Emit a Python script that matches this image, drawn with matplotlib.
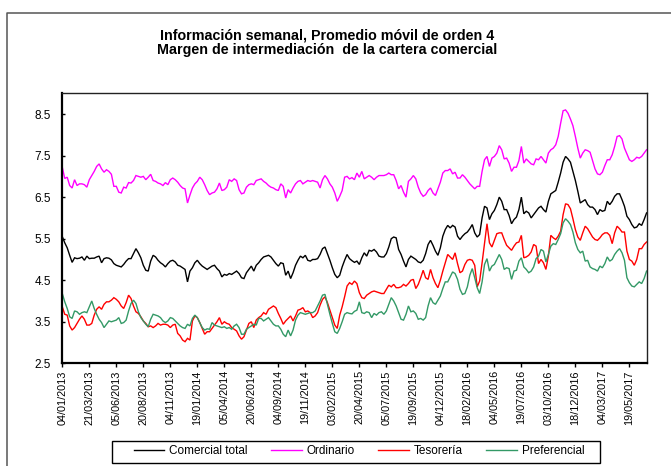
import numpy as np
import matplotlib
matplotlib.use("Agg")
import matplotlib.pyplot as plt
from matplotlib.lines import Line2D
from matplotlib.patches import Rectangle

plt.rcParams['font.family'] = ['Liberation Sans', 'DejaVu Sans']

# ---------------- data (weekly, moving average of order 4) ----------------
tick_labels = ["04/01/2013", "21/03/2013", "05/06/2013", "20/08/2013", "04/11/2013",
               "19/01/2014", "05/04/2014", "20/06/2014", "04/09/2014", "19/11/2014",
               "03/02/2015", "20/04/2015", "05/07/2015", "19/09/2015", "04/12/2015",
               "18/02/2016", "04/05/2016", "19/07/2016", "03/10/2016", "18/12/2016",
               "04/03/2017", "19/05/2017"]

comercial_total = [
    5.55, 5.40, 5.28, 5.10, 4.93, 5.04, 5.02, 5.03, 5.06, 4.98,
    5.08, 5.02, 5.03, 5.03, 5.06, 5.08, 4.92, 5.02, 5.04, 5.03,
    4.99, 4.90, 4.86, 4.84, 4.82, 4.88, 4.96, 5.02, 5.02, 5.14,
    5.26, 5.16, 5.04, 4.86, 4.74, 4.72, 4.96, 5.10, 5.06, 4.98,
    4.92, 4.88, 4.82, 4.90, 4.96, 4.98, 4.94, 4.86, 4.84, 4.80,
    4.76, 4.46, 4.72, 4.80, 4.92, 4.98, 4.90, 4.84, 4.80, 4.76,
    4.80, 4.84, 4.86, 4.78, 4.72, 4.58, 4.64, 4.62, 4.66, 4.64,
    4.68, 4.72, 4.66, 4.56, 4.54, 4.68, 4.76, 4.84, 4.72, 4.86,
    4.92, 5.00, 5.06, 5.08, 5.10, 5.06, 4.98, 4.90, 4.84, 4.92,
    4.90, 4.62, 4.72, 4.54, 4.68, 4.86, 4.98, 5.08, 5.04, 5.10,
    4.98, 4.96, 5.00, 5.00, 5.02, 5.12, 5.26, 5.30, 5.14, 4.98,
    4.80, 4.64, 4.56, 4.62, 4.82, 4.98, 5.12, 5.02, 4.97, 4.93,
    4.96, 4.88, 5.04, 5.16, 5.08, 5.22, 5.20, 5.24, 5.18, 5.08,
    5.06, 5.06, 5.14, 5.30, 5.50, 5.54, 5.52, 5.24, 5.12, 4.96,
    4.82, 5.00, 5.08, 5.04, 5.00, 4.94, 4.92, 4.98, 5.14, 5.36,
    5.46, 5.34, 5.20, 5.10, 5.28, 5.56, 5.72, 5.82, 5.76, 5.82,
    5.78, 5.56, 5.48, 5.56, 5.62, 5.66, 5.74, 5.84, 5.64, 5.54,
    5.60, 6.00, 6.28, 6.24, 5.96, 6.10, 6.18, 6.32, 6.50, 6.40,
    6.20, 6.20, 6.06, 5.86, 5.96, 6.02, 6.20, 6.50, 6.10, 6.16,
    6.12, 6.00, 6.08, 6.16, 6.24, 6.28, 6.20, 6.14, 6.40, 6.58,
    6.62, 6.66, 6.86, 7.08, 7.34, 7.48, 7.42, 7.34, 7.12, 6.90,
    6.64, 6.36, 6.40, 6.44, 6.32, 6.26, 6.26, 6.20, 6.08, 6.20,
    6.16, 6.18, 6.40, 6.32, 6.40, 6.52, 6.58, 6.58, 6.44, 6.28,
    6.04, 5.96, 5.84, 5.76, 5.78, 5.86, 5.82, 5.96, 6.12]

ordinario = [
    7.22, 6.95, 6.98, 6.78, 6.72, 6.92, 6.78, 6.82, 6.82, 6.80,
    6.74, 6.92, 7.02, 7.12, 7.24, 7.30, 7.18, 7.10, 7.16, 7.12,
    7.05, 6.76, 6.76, 6.62, 6.60, 6.74, 6.72, 6.85, 6.84, 6.90,
    7.02, 7.00, 6.98, 7.00, 6.92, 6.98, 7.05, 6.90, 6.88, 6.84,
    6.82, 6.78, 6.85, 6.80, 6.92, 6.96, 6.92, 6.86, 6.78, 6.72,
    6.70, 6.36, 6.55, 6.72, 6.82, 6.88, 6.98, 6.92, 6.80, 6.66,
    6.56, 6.60, 6.62, 6.70, 6.84, 6.66, 6.68, 6.74, 6.92, 6.88,
    6.94, 6.90, 6.68, 6.58, 6.60, 6.74, 6.80, 6.82, 6.80, 6.90,
    6.92, 6.94, 6.88, 6.84, 6.78, 6.74, 6.72, 6.68, 6.66, 6.82,
    6.76, 6.48, 6.68, 6.60, 6.72, 6.82, 6.88, 6.90, 6.82, 6.86,
    6.90, 6.88, 6.90, 6.88, 6.86, 6.72, 6.92, 7.02, 6.94, 6.82,
    6.74, 6.60, 6.40, 6.52, 6.66, 6.98, 7.00, 6.94, 6.97, 6.92,
    7.08, 6.98, 7.12, 6.94, 6.98, 7.02, 6.98, 6.92, 6.98, 7.02,
    7.02, 7.02, 7.04, 7.08, 7.04, 7.04, 6.90, 6.70, 6.78, 6.62,
    6.50, 6.88, 6.94, 7.02, 6.94, 6.74, 6.60, 6.52, 6.56, 6.66,
    6.72, 6.60, 6.54, 6.70, 6.86, 7.08, 7.14, 7.14, 7.18, 7.06,
    7.10, 6.96, 6.96, 7.04, 6.98, 6.90, 6.82, 6.76, 6.70, 6.76,
    6.76, 7.12, 7.40, 7.48, 7.24, 7.44, 7.48, 7.56, 7.74, 7.64,
    7.42, 7.44, 7.32, 7.12, 7.22, 7.22, 7.38, 7.72, 7.32, 7.42,
    7.36, 7.30, 7.28, 7.42, 7.40, 7.48, 7.40, 7.32, 7.56, 7.64,
    7.68, 7.76, 7.96, 8.28, 8.58, 8.60, 8.52, 8.38, 8.22, 7.96,
    7.68, 7.44, 7.56, 7.64, 7.62, 7.58, 7.38, 7.18, 7.06, 7.04,
    7.10, 7.26, 7.40, 7.40, 7.52, 7.72, 7.96, 7.98, 7.90, 7.68,
    7.54, 7.40, 7.36, 7.40, 7.46, 7.44, 7.48, 7.56, 7.64]

tesoreria = [
    3.86, 3.68, 3.66, 3.40, 3.30, 3.36, 3.46, 3.56, 3.64, 3.56,
    3.42, 3.42, 3.46, 3.66, 3.80, 3.86, 3.80, 3.92, 3.98, 3.98,
    4.02, 4.08, 4.04, 3.98, 3.88, 3.82, 3.96, 4.14, 4.06, 3.88,
    3.74, 3.70, 3.62, 3.52, 3.46, 3.38, 3.40, 3.36, 3.40, 3.46,
    3.42, 3.44, 3.44, 3.42, 3.36, 3.42, 3.44, 3.22, 3.16, 3.06,
    3.02, 3.10, 3.06, 3.52, 3.64, 3.60, 3.48, 3.34, 3.20, 3.26,
    3.26, 3.34, 3.42, 3.50, 3.60, 3.44, 3.50, 3.46, 3.44, 3.36,
    3.32, 3.28, 3.16, 3.08, 3.14, 3.30, 3.46, 3.50, 3.36, 3.54,
    3.60, 3.64, 3.72, 3.68, 3.80, 3.84, 3.88, 3.84, 3.70, 3.58,
    3.44, 3.52, 3.58, 3.64, 3.52, 3.64, 3.78, 3.80, 3.84, 3.74,
    3.76, 3.72, 3.60, 3.64, 3.72, 3.90, 4.04, 4.10, 3.96, 3.78,
    3.60, 3.42, 3.34, 3.66, 3.86, 4.10, 4.36, 4.44, 4.40, 4.48,
    4.42, 4.20, 4.08, 4.06, 4.14, 4.18, 4.22, 4.24, 4.22, 4.20,
    4.18, 4.18, 4.28, 4.38, 4.34, 4.40, 4.32, 4.32, 4.34, 4.40,
    4.36, 4.42, 4.50, 4.52, 4.30, 4.40, 4.56, 4.74, 4.56, 4.52,
    4.76, 4.56, 4.42, 4.32, 4.50, 4.72, 4.92, 5.12, 5.06, 5.00,
    5.16, 4.90, 4.68, 4.72, 4.88, 4.98, 5.00, 4.98, 4.86, 4.34,
    4.48, 4.92, 5.40, 5.86, 5.40, 5.30, 5.46, 5.62, 5.64, 5.64,
    5.48, 5.34, 5.28, 5.22, 5.32, 5.40, 5.42, 5.58, 5.04, 5.06,
    5.10, 5.18, 5.36, 5.32, 4.90, 5.00, 4.92, 4.76, 5.08, 5.58,
    5.52, 5.48, 5.56, 5.68, 6.08, 6.34, 6.32, 6.22, 5.98, 5.72,
    5.54, 5.46, 5.64, 5.80, 5.74, 5.64, 5.54, 5.48, 5.46, 5.52,
    5.60, 5.64, 5.64, 5.58, 5.38, 5.64, 5.80, 5.74, 5.66, 5.66,
    5.20, 5.00, 4.96, 4.86, 5.00, 5.26, 5.26, 5.36, 5.42]

preferencial = [
    4.18, 3.98, 3.82, 3.62, 3.58, 3.76, 3.74, 3.68, 3.72, 3.74,
    3.72, 3.86, 4.00, 3.82, 3.68, 3.56, 3.48, 3.36, 3.44, 3.52,
    3.50, 3.52, 3.54, 3.60, 3.46, 3.48, 3.54, 3.76, 3.94, 4.02,
    3.94, 3.74, 3.60, 3.52, 3.44, 3.38, 3.56, 3.68, 3.66, 3.64,
    3.60, 3.52, 3.48, 3.52, 3.60, 3.58, 3.52, 3.46, 3.40, 3.36,
    3.34, 3.44, 3.40, 3.58, 3.66, 3.60, 3.48, 3.36, 3.30, 3.33,
    3.32, 3.48, 3.42, 3.40, 3.38, 3.36, 3.38, 3.34, 3.36, 3.32,
    3.40, 3.44, 3.36, 3.20, 3.20, 3.32, 3.36, 3.40, 3.44, 3.42,
    3.58, 3.58, 3.52, 3.56, 3.60, 3.52, 3.44, 3.40, 3.40, 3.32,
    3.20, 3.14, 3.30, 3.16, 3.30, 3.54, 3.66, 3.72, 3.70, 3.68,
    3.70, 3.72, 3.72, 3.76, 3.88, 4.00, 4.14, 4.16, 3.92, 3.68,
    3.46, 3.26, 3.22, 3.34, 3.50, 3.68, 3.72, 3.70, 3.69, 3.75,
    3.78, 3.98, 3.72, 3.70, 3.74, 3.72, 3.60, 3.70, 3.66, 3.72,
    3.74, 3.68, 3.76, 3.92, 4.08, 4.00, 3.88, 3.72, 3.56, 3.54,
    3.68, 3.88, 3.74, 3.76, 3.70, 3.56, 3.58, 3.54, 3.60, 3.88,
    4.08, 3.96, 3.92, 4.02, 4.12, 4.30, 4.46, 4.46, 4.58, 4.70,
    4.66, 4.52, 4.28, 4.16, 4.18, 4.34, 4.62, 4.78, 4.56, 4.32,
    4.18, 4.46, 4.88, 5.02, 4.72, 4.84, 4.88, 5.00, 5.12, 5.00,
    4.76, 4.80, 4.78, 4.52, 4.72, 4.74, 4.96, 5.04, 4.82, 4.76,
    4.68, 4.72, 4.82, 5.02, 5.08, 5.24, 5.20, 4.94, 5.12, 5.32,
    5.38, 5.36, 5.48, 5.62, 5.88, 5.98, 5.92, 5.84, 5.66, 5.40,
    5.24, 5.16, 5.20, 4.96, 4.98, 4.82, 4.78, 4.76, 4.72, 4.84,
    4.80, 4.90, 5.06, 4.96, 5.00, 5.12, 5.20, 5.26, 5.16, 4.98,
    4.56, 4.44, 4.36, 4.34, 4.40, 4.46, 4.42, 4.54, 4.72]

series_names = ["Comercial total", "Ordinario", "Tesorería", "Preferencial"]
series_colors = ["#000000", "#FF00FF", "#FF0000", "#339966"]
tick_step = 11

# ---------------- figure ----------------
W, H = 671, 466
fig = plt.figure(figsize=(W / 100, H / 100), dpi=100)
fig.patch.set_facecolor("white")

# outer frame of the chart (partially cropped in the reference)
fig.add_artist(Line2D([6.5 / W, 6.5 / W, 1.0], [0.0, 1 - 12.5 / H, 1 - 12.5 / H],
                      transform=fig.transFigure, color="#555555", lw=1.1))

ax = fig.add_axes([62.3 / W, 1 - 363.3 / H, 585 / W, 270 / H])

x = np.arange(len(comercial_total))
for vals, name, col in zip([comercial_total, ordinario, tesoreria, preferencial],
                           series_names, series_colors):
    ax.plot(x, vals, color=col, lw=1.0, label=name, solid_joinstyle="miter")

ax.set_xlim(0, 238.3)
ax.set_ylim(2.5, 9.0)

ax.set_yticks([2.5, 3.5, 4.5, 5.5, 6.5, 7.5, 8.5])
ax.set_yticklabels(["2.5", "3.5", "4.5", "5.5", "6.5", "7.5", "8.5"])
ax.tick_params(axis="y", direction="in", length=2, width=1, labelsize=8.5, pad=8)

ax.set_xticks(np.arange(len(tick_labels)) * tick_step)
ax.set_xticklabels(tick_labels, rotation=90)
ax.tick_params(axis="x", direction="out", length=3, width=1, labelsize=7.8, pad=2)

for side in ["top", "right"]:
    ax.spines[side].set_linewidth(1.0)
    ax.spines[side].set_color("#222222")
for side in ["left", "bottom"]:
    ax.spines[side].set_linewidth(1.6)
    ax.spines[side].set_color("black")

fig.text(327 / W, 1 - 36 / H, "Información semanal, Promedio móvil de orden 4",
         ha="center", va="center", fontsize=10.3, fontweight="bold")
fig.text(327 / W, 1 - 50 / H, "Margen de intermediación  de la cartera comercial",
         ha="center", va="center", fontsize=10.3, fontweight="bold")

# legend: frame drawn as a box, entries centred inside it
fig.add_artist(Rectangle((112 / W, 1 - 462.5 / H), 488 / W, 21.5 / H,
                         transform=fig.transFigure, fill=False,
                         edgecolor="black", lw=1.0))
leg = fig.legend(loc="center", bbox_to_anchor=(359 / W, 1 - 451.5 / H), ncol=4,
                 frameon=False, fontsize=8.5, handlelength=2.6,
                 handletextpad=0.4, columnspacing=2.0, borderpad=0.0)

fig.savefig("out.png", dpi=100, facecolor="white")
